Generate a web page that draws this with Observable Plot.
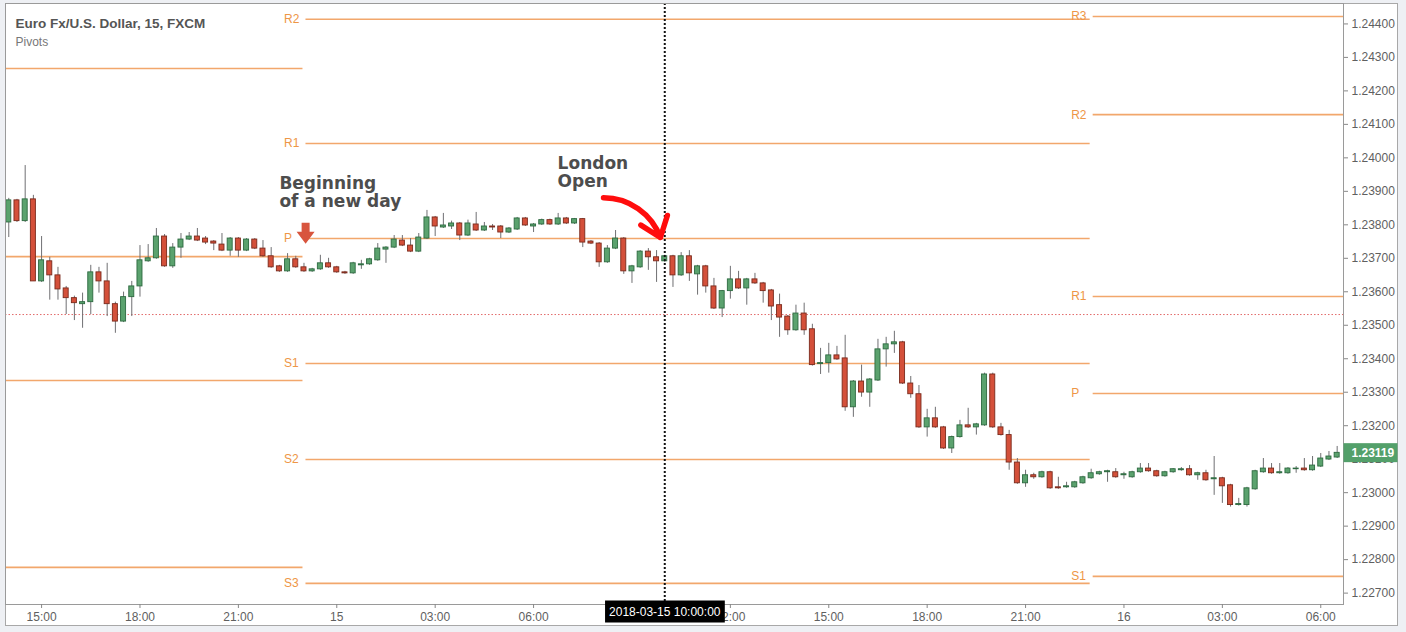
<!DOCTYPE html>
<html><head><meta charset="utf-8">
<script src="https://cdn.jsdelivr.net/npm/d3@7"></script>
<script src="https://cdn.jsdelivr.net/npm/@observablehq/plot@0.6"></script>
<style>
html,body{margin:0;padding:0;background:#eef0f4;}
#wrap{position:relative;width:1406px;height:632px;overflow:hidden;}
#box{position:absolute;left:5px;top:3px;width:1393px;height:623px;background:#fff;border:1px solid #a8a8a8;box-sizing:border-box;}
#chart{position:absolute;left:0;top:0;}
</style></head><body>
<div id="wrap"><div id="box"></div><div id="chart"></div></div>
<script>
// ---- data: EUR/USD 15-minute bars (FXCM), first bar 2018-03-14 14:00 UTC ----
const firstBar = "2018-03-14T14:00:00Z";
const barMinutes = 15;
const opens = [1.23807,1.23873,1.23811,1.23876,1.23631,1.23691,1.23649,1.23610,1.23581,1.23563,
1.23569,1.23658,1.23631,1.23563,1.23511,1.23584,1.23616,1.23691,1.23700,1.23765,
1.23676,1.23732,1.23756,1.23765,1.23759,1.23750,1.23741,1.23723,1.23759,1.23723,
1.23756,1.23729,1.23706,1.23676,1.23661,1.23697,1.23673,1.23661,1.23667,1.23685,
1.23673,1.23658,1.23655,1.23679,1.23682,1.23694,1.23726,1.23732,1.23753,1.23738,
1.23720,1.23759,1.23822,1.23792,1.23795,1.23804,1.23768,1.23801,1.23783,1.23795,
1.23795,1.23777,1.23786,1.23819,1.23795,1.23801,1.23814,1.23801,1.23819,1.23804,
1.23817,1.23750,1.23744,1.23688,1.23729,1.23759,1.23661,1.23673,1.23720,1.23703,
1.23691,1.23706,1.23649,1.23706,1.23652,1.23676,1.23616,1.23550,1.23602,1.23637,
1.23610,1.23637,1.23625,1.23604,1.23560,1.23526,1.23485,1.23535,1.23488,1.23384,
1.23387,1.23410,1.23401,1.23255,1.23332,1.23299,1.23335,1.23428,1.23443,1.23449,
1.23326,1.23294,1.23195,1.23222,1.23195,1.23132,1.23166,1.23201,1.23195,1.23201,
1.23353,1.23195,1.23172,1.23090,1.23028,1.23052,1.23046,1.23061,1.23016,1.23016,
1.23016,1.23028,1.23043,1.23055,1.23061,1.23061,1.23052,1.23046,1.23061,1.23072,
1.23064,1.23049,1.23061,1.23067,1.23070,1.23052,1.23058,1.23040,1.23043,1.23022,
1.22963,1.22963,1.23010,1.23061,1.23072,1.23058,1.23058,1.23070,1.23072,1.23067,
1.23078,1.23099,1.23105];
const highs = [1.23879,1.23876,1.23977,1.23888,1.23765,1.23703,1.23673,1.23616,1.23587,1.23596,
1.23679,1.23673,1.23685,1.23569,1.23599,1.23631,1.23738,1.23741,1.23789,1.23771,
1.23744,1.23774,1.23777,1.23789,1.23765,1.23753,1.23774,1.23762,1.23762,1.23759,
1.23759,1.23753,1.23732,1.23679,1.23714,1.23706,1.23685,1.23670,1.23709,1.23700,
1.23676,1.23661,1.23688,1.23694,1.23700,1.23744,1.23735,1.23768,1.23768,1.23759,
1.23774,1.23843,1.23825,1.23834,1.23811,1.23807,1.23814,1.23837,1.23807,1.23801,
1.23798,1.23792,1.23822,1.23822,1.23804,1.23817,1.23817,1.23834,1.23822,1.23819,
1.23819,1.23753,1.23747,1.23738,1.23783,1.23762,1.23679,1.23723,1.23729,1.23723,
1.23709,1.23709,1.23717,1.23723,1.23679,1.23679,1.23640,1.23604,1.23676,1.23661,
1.23640,1.23655,1.23628,1.23607,1.23593,1.23529,1.23560,1.23566,1.23503,1.23431,
1.23446,1.23437,1.23470,1.23335,1.23381,1.23341,1.23458,1.23464,1.23482,1.23452,
1.23347,1.23320,1.23249,1.23255,1.23198,1.23169,1.23216,1.23252,1.23207,1.23357,
1.23357,1.23207,1.23186,1.23102,1.23067,1.23058,1.23064,1.23064,1.23046,1.23031,
1.23034,1.23049,1.23070,1.23064,1.23067,1.23072,1.23061,1.23064,1.23087,1.23087,
1.23067,1.23064,1.23072,1.23075,1.23081,1.23061,1.23067,1.23108,1.23046,1.23025,
1.22983,1.23016,1.23067,1.23102,1.23087,1.23087,1.23075,1.23078,1.23102,1.23108,
1.23117,1.23123,1.23138];
const lows = [1.23762,1.23807,1.23807,1.23631,1.23628,1.23575,1.23575,1.23532,1.23514,1.23491,
1.23532,1.23596,1.23526,1.23476,1.23508,1.23526,1.23584,1.23688,1.23697,1.23673,
1.23670,1.23700,1.23753,1.23750,1.23741,1.23723,1.23720,1.23706,1.23703,1.23720,
1.23726,1.23703,1.23670,1.23658,1.23658,1.23670,1.23658,1.23658,1.23664,1.23670,
1.23655,1.23652,1.23652,1.23667,1.23679,1.23691,1.23685,1.23729,1.23735,1.23717,
1.23717,1.23756,1.23765,1.23789,1.23786,1.23753,1.23765,1.23780,1.23780,1.23783,
1.23759,1.23774,1.23783,1.23795,1.23777,1.23798,1.23798,1.23798,1.23801,1.23801,
1.23732,1.23741,1.23673,1.23685,1.23726,1.23652,1.23625,1.23670,1.23664,1.23628,
1.23688,1.23613,1.23646,1.23631,1.23590,1.23596,1.23547,1.23523,1.23578,1.23607,
1.23560,1.23622,1.23566,1.23514,1.23464,1.23470,1.23482,1.23470,1.23378,1.23353,
1.23357,1.23395,1.23243,1.23225,1.23285,1.23255,1.23332,1.23375,1.23416,1.23323,
1.23282,1.23192,1.23166,1.23192,1.23129,1.23117,1.23163,1.23192,1.23172,1.23198,
1.23192,1.23169,1.23067,1.23025,1.23016,1.23040,1.23043,1.23010,1.23010,1.23013,
1.23013,1.23025,1.23040,1.23052,1.23031,1.23043,1.23040,1.23043,1.23058,1.23061,
1.23046,1.23046,1.23058,1.23064,1.23049,1.23037,1.23034,1.22992,1.22968,1.22957,
1.22960,1.22957,1.23007,1.23058,1.23055,1.23055,1.23055,1.23058,1.23064,1.23064,
1.23075,1.23096,1.23102];
const closes = [1.23873,1.23811,1.23876,1.23631,1.23694,1.23649,1.23607,1.23581,1.23566,1.23569,
1.23658,1.23631,1.23563,1.23511,1.23584,1.23616,1.23694,1.23700,1.23765,1.23676,
1.23732,1.23756,1.23765,1.23753,1.23747,1.23744,1.23723,1.23759,1.23723,1.23756,
1.23729,1.23706,1.23673,1.23661,1.23697,1.23673,1.23661,1.23667,1.23685,1.23673,
1.23658,1.23655,1.23685,1.23682,1.23697,1.23729,1.23732,1.23756,1.23738,1.23720,
1.23762,1.23822,1.23795,1.23798,1.23804,1.23768,1.23804,1.23783,1.23795,1.23792,
1.23777,1.23789,1.23819,1.23798,1.23801,1.23814,1.23801,1.23819,1.23804,1.23817,
1.23747,1.23744,1.23688,1.23729,1.23759,1.23661,1.23676,1.23720,1.23703,1.23691,
1.23706,1.23649,1.23706,1.23655,1.23676,1.23616,1.23550,1.23602,1.23637,1.23610,
1.23637,1.23625,1.23602,1.23556,1.23523,1.23485,1.23535,1.23485,1.23381,1.23387,
1.23410,1.23398,1.23255,1.23332,1.23299,1.23338,1.23428,1.23443,1.23449,1.23326,
1.23294,1.23195,1.23222,1.23195,1.23132,1.23166,1.23201,1.23195,1.23204,1.23353,
1.23195,1.23172,1.23090,1.23028,1.23052,1.23046,1.23061,1.23013,1.23013,1.23019,
1.23031,1.23046,1.23058,1.23061,1.23064,1.23046,1.23055,1.23061,1.23072,1.23064,
1.23049,1.23061,1.23070,1.23070,1.23052,1.23058,1.23037,1.23043,1.23019,1.22963,
1.22966,1.23013,1.23064,1.23072,1.23058,1.23061,1.23072,1.23072,1.23067,1.23081,
1.23102,1.23108,1.23119];

// Daily pivot levels (sessions start 23:00 UTC)
const pivotSessionBounds = ["2018-03-13T23:00:00Z","2018-03-14T23:00:00Z","2018-03-15T23:00:00Z","2018-03-16T23:00:00Z"];
const pivotNames   = ["R1","P","S1","S2", "R2","R1","P","S1","S2","S3", "R3","R2","R1","P","S1"];
const pivotValues  = [1.24267,1.23705,1.23335,1.22777, 1.24414,1.24043,1.23759,1.23386,1.23099,1.22729, 1.24422,1.24129,1.23586,1.23296,1.22750];
const pivotSession = [0,0,0,0, 1,1,1,1,1,1, 2,2,2,2,2];

const dottedLevel = [1.23532];
const lastPrice = [1.23119];
const markerTime = ["2018-03-15T10:00:00Z"];
const markerLabel = ["2018-03-15 10:00:00"];

const xTickTimes = ["2018-03-14T15:00:00Z","2018-03-14T18:00:00Z","2018-03-14T21:00:00Z","2018-03-15T00:00:00Z","2018-03-15T03:00:00Z","2018-03-15T06:00:00Z","2018-03-15T12:00:00Z","2018-03-15T15:00:00Z","2018-03-15T18:00:00Z","2018-03-15T21:00:00Z","2018-03-16T00:00:00Z","2018-03-16T03:00:00Z","2018-03-16T06:00:00Z"];
const xTickLabels = ["15:00","18:00","21:00","15","03:00","06:00","12:00","15:00","18:00","21:00","16","03:00","06:00"];
const yTicks = [1.227,1.228,1.229,1.230,1.231,1.232,1.233,1.234,1.235,1.236,1.237,1.238,1.239,1.240,1.241,1.242,1.243,1.244];

const titleText = "Euro Fx/U.S. Dollar, 15, FXCM";
const subtitleText = "Pivots";
const annotTexts = ["Beginning\nof a new day", "London\nOpen"];
const annotTimes = ["2018-03-14T22:15:00Z", "2018-03-15T06:44:00Z"];
const annotPrices = [1.23944, 1.24004];
const newDayArrow = {time: "2018-03-14T23:03:00Z", price: 1.23775};
const londonArrow = {t1: "2018-03-15T08:08:00Z", p1: 1.23881, t2: "2018-03-15T09:52:00Z", p2: 1.23762};

// ---- build tables ----
const xDomain = [new Date("2018-03-14T13:54:00Z"), new Date("2018-03-16T06:41:36Z")];
const t0 = new Date(firstBar);
const bars = opens.map((o, i) => ({
  t: new Date(+t0 + i * barMinutes * 60000),
  open: o, high: highs[i], low: lows[i], close: closes[i]
}));
const up = bars.filter(d => d.close >= d.open);
const down = bars.filter(d => d.close < d.open);
const halfBody = 4.6 * 60000;

const pivots = pivotNames.map((n, i) => ({
  name: n, value: pivotValues[i],
  start: new Date(pivotSessionBounds[pivotSession[i]]),
  end: new Date(pivotSessionBounds[pivotSession[i] + 1])
}));
const pivotLabelRows = pivots.filter(d => d.start >= xDomain[0]);
const tickMap = new Map(xTickTimes.map((t, i) => [+new Date(t), xTickLabels[i]]));
const annots = annotTexts.map((s, i) => ({text: s, t: new Date(annotTimes[i]), p: annotPrices[i]}));
const priceTagText = lastPrice.map(d => d.toFixed(5));

const blockArrow = {
  draw(ctx) {
    ctx.moveTo(-4, -10.5); ctx.lineTo(4, -10.5); ctx.lineTo(4, -1.5);
    ctx.lineTo(9, -1.5); ctx.lineTo(0, 10.5); ctx.lineTo(-9, -1.5);
    ctx.lineTo(-4, -1.5); ctx.closePath();
  }
};

const UP_FILL = "#5ba26e", UP_STROKE = "#2d6a40", DN_FILL = "#d4503a", DN_STROKE = "#7a2a1c", WICK = "#6f6f72";
const PIVOT = "#f2a76c", PIVOT_TXT = "#ee9646";

const chart = Plot.plot({
  width: 1406, height: 632,
  marginLeft: 5, marginRight: 63, marginTop: 3, marginBottom: 28,
  style: {fontFamily: "'Liberation Sans', Arial, sans-serif", fontSize: "12px", background: "transparent", overflow: "visible"},
  x: {type: "utc", domain: xDomain},
  y: {domain: [1.22666, 1.24461]},
  marks: [
    // pivot lines
    Plot.ruleY(pivots, {y: "value", x1: "start", x2: "end", stroke: PIVOT, strokeWidth: 1.6, insetLeft: 2, insetRight: 1, clip: true}),
    Plot.text(pivotLabelRows, {y: "value", x: "start", text: "name", textAnchor: "start", dx: -20, fill: PIVOT_TXT, fontSize: 12}),
    Plot.ruleY(dottedLevel, {stroke: "#e36b6b", strokeDasharray: "1.5,2", strokeWidth: 1}),
    // candles
    Plot.ruleX(bars, {x: "t", y1: "low", y2: "high", stroke: WICK, strokeWidth: 1}),
    Plot.rect(up, {x1: d => new Date(+d.t - halfBody), x2: d => new Date(+d.t + halfBody), y1: "open", y2: "close", fill: UP_FILL, stroke: UP_STROKE, strokeWidth: 0.9}),
    Plot.rect(down, {x1: d => new Date(+d.t - halfBody), x2: d => new Date(+d.t + halfBody), y1: "open", y2: "close", fill: DN_FILL, stroke: DN_STROKE, strokeWidth: 0.9}),
    // vertical marker
    Plot.ruleX(markerTime.map(t => new Date(t)), {stroke: "#111", strokeWidth: 2, strokeDasharray: "2,2"}),
    // frame & axes
    Plot.frame({stroke: "#9a9a9a"}),
    Plot.axisY({anchor: "right", ticks: yTicks, tickFormat: d => d.toFixed(5), tickSize: 4, tickPadding: 4, label: null, stroke: "#888", fill: "#5f5f5f", fontSize: 12}),
    Plot.axisX({anchor: "bottom", ticks: xTickTimes.map(t => new Date(t)), tickFormat: d => tickMap.get(+d), tickSize: 4, tickPadding: 4, label: null, stroke: "#888", fill: "#5f5f5f", fontSize: 12}),
    // title
    Plot.text([titleText], {frameAnchor: "top-left", dx: 10, dy: 20, text: d => d, textAnchor: "start", lineAnchor: "middle", fontSize: 13.5, fontWeight: 600, fill: "#555"}),
    Plot.text([subtitleText], {frameAnchor: "top-left", dx: 10, dy: 39, text: d => d, textAnchor: "start", lineAnchor: "middle", fontSize: 12, fill: "#777"}),
    // annotations
    Plot.text(annots, {x: "t", y: "p", text: "text", textAnchor: "start", lineAnchor: "top", lineHeight: 1.05, fontSize: 17, fontWeight: "bold", fill: "#4d4d4d", fontFamily: "'DejaVu Sans', sans-serif"}),
    Plot.dot([newDayArrow], {x: d => new Date(d.time), y: "price", symbol: blockArrow, fill: "#d8553e", stroke: "none", r: 5}),
    Plot.arrow([londonArrow], {x1: d => new Date(d.t1), y1: "p1", x2: d => new Date(d.t2), y2: "p2", bend: 35, stroke: "#ff0d0d", strokeWidth: 5.5, headLength: 14, headAngle: 75}),
    // tags
    Plot.text(lastPrice, {y: d => d, text: d => d.toFixed(5), frameAnchor: "right", dx: 8, textAnchor: "start", fill: "#fff", fontSize: 12, fontWeight: 600}),
    Plot.text(markerTime.map((t, i) => ({t: new Date(t), label: markerLabel[i]})), {x: "t", text: "label", frameAnchor: "bottom", dy: 11, fill: "#fff", fontSize: 12})
  ]
});
document.getElementById("chart").appendChild(chart);

// background boxes behind the tag texts (found by their content)
const NS = "http://www.w3.org/2000/svg";
function boxBehind(content, fill, geom) {
  Array.from(chart.querySelectorAll("text")).filter(t => t.textContent === content).forEach(t => {
    const b = t.getBBox();
    const g = geom(b);
    const r = document.createElementNS(NS, "rect");
    r.setAttribute("x", g.x); r.setAttribute("y", g.y);
    r.setAttribute("width", g.w); r.setAttribute("height", g.h);
    r.setAttribute("fill", fill);
    const tr = t.getAttribute("transform");
    if (tr) r.setAttribute("transform", tr);
    t.parentNode.insertBefore(r, t);
  });
}
priceTagText.forEach(s => boxBehind(s, "#53a06a", b => ({x: b.x - 8, y: b.y - 2.5, w: 54, h: b.height + 5})));
markerLabel.forEach(s => boxBehind(s, "#000", b => ({x: b.x - 4, y: b.y - 4, w: b.width + 8, h: b.height + 8})));
</script>
</body></html>
